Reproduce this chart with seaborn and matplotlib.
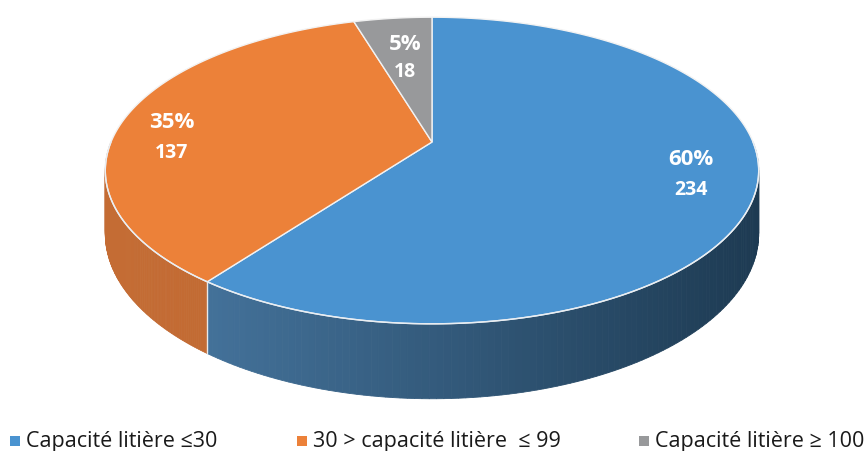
import numpy as np
import matplotlib.pyplot as plt
import matplotlib.colors as mcolors
import seaborn as sns
from matplotlib.patches import Polygon

# données
categories = ["Capacité litière ≤30", "30 > capacité litière  ≤ 99", "Capacité litière ≥ 100"]
counts = [234, 137, 18]
pct_labels = ["60%", "35%", "5%"]
top_colors = ["#4a93d0", "#ec8139", "#98999b"]
side_colors_left = ["#4a7ba6", "#c46c34", "#7d7e80"]
side_colors_right = ["#1d3a52", "#b8652f", "#6d6e70"]

sns.set_theme(style="white")
plt.rcParams['font.family'] = ['Open Sans', 'DejaVu Sans']

fig = plt.figure(figsize=(8.67, 4.52), dpi=100)
ax = fig.add_axes([0, 0, 1, 1])
ax.set_xlim(0, 867)
ax.set_ylim(452, 0)
ax.axis("off")

# géométrie de la projection (perspective simple)
cx, cy = 432, 143
sx, sy, k = 321, 148, 0.186
d0 = 61


def proj(theta):
    u, v = np.cos(theta), np.sin(theta)
    den = 1 + k * v
    return cx + sx * u / den, cy - sy * v / den


def depth(theta):
    return d0 / (1 + k * np.sin(theta))


# angles des parts : départ à 90°, sens horaire
total = sum(counts)
fracs = np.array(counts) / total
starts = []
ang = 90.0
for f in fracs:
    a1 = ang - 360 * f
    starts.append((a1, ang))
    ang = a1

# faces latérales (partie avant, sin < 0)
for i, (a1, a2) in enumerate(starts):
    lo, hi = np.deg2rad(a1), np.deg2rad(a2)
    segs = []
    for off in (0, 2 * np.pi, -2 * np.pi):
        l, h = max(lo + off, np.pi), min(hi + off, 2 * np.pi)
        if h > l:
            segs.append((l, h))
    c_left = np.array(mcolors.to_rgb(side_colors_left[i]))
    c_right = np.array(mcolors.to_rgb(side_colors_right[i]))
    for l, h in segs:
        ts = np.linspace(l, h, 120)
        for j in range(len(ts) - 1):
            t0, t1 = ts[j], ts[j + 1]
            x0, y0 = proj(t0)
            x1, y1 = proj(t1)
            w = np.clip((x0 - 107) / (760 - 107), 0, 1)
            col = c_left * (1 - w) + c_right * w
            ax.add_patch(Polygon([(x0, y0), (x1, y1), (x1, y1 + depth(t1)), (x0, y0 + depth(t0))],
                                 closed=True, facecolor=col, edgecolor=col, lw=0.6))
        # arête verticale au début de la part
        xa, ya = proj(h)
        if h < 2 * np.pi - 0.01:
            ax.plot([xa, xa], [ya, ya + depth(h)], color="#e8e8e8", lw=1.0)

# faces supérieures
for i, (a1, a2) in enumerate(starts):
    ts = np.deg2rad(np.linspace(a1, a2, 200))
    pts = [(cx, cy)] + [proj(t) for t in ts]
    ax.add_patch(Polygon(pts, closed=True, facecolor=top_colors[i], edgecolor="#f2f2f2", lw=1.0))

# liseré clair sur le bord avant
ts = np.linspace(np.pi, 2 * np.pi, 300)
xs, ys = zip(*[proj(t) for t in ts])
ax.plot(xs, ys, color="#e9eef3", lw=1.0)

# étiquettes
label_pos = [(691, 160, 190), (172, 122, 153), (405, 44, 72)]
for i, (lx, ly1, ly2) in enumerate(label_pos):
    ax.text(lx, ly1, pct_labels[i], color="white", fontsize=16, fontweight="bold",
            ha="center", va="center")
    ax.text(lx, ly2, str(counts[i]), color="white", fontsize=14, fontweight="bold",
            ha="center", va="center")

# légende (placée à la main)
legend_x = [15, 302, 644]
for i, lab in enumerate(categories):
    ax.scatter([legend_x[i]], [442], marker="s", s=52, color=top_colors[i], linewidths=0)
    ax.text(legend_x[i] + 11, 447, lab, fontsize=15.5, color="#1a1a1a",
            ha="left", va="baseline")

fig.savefig("out.png", dpi=100)
